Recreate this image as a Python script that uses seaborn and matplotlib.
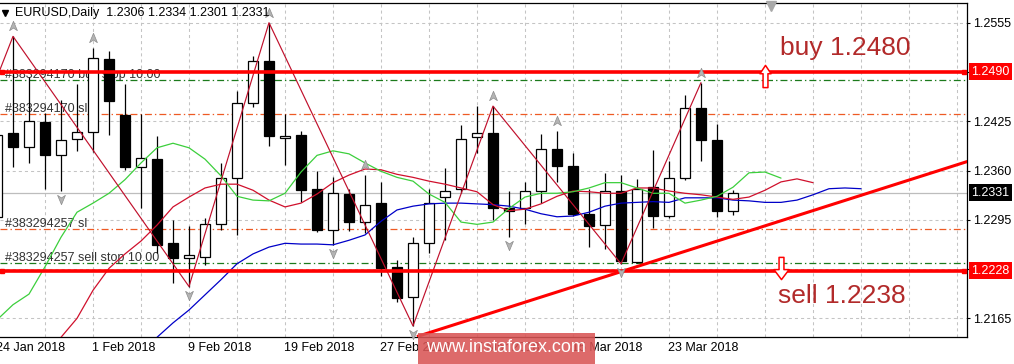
import matplotlib
matplotlib.use("Agg")
import matplotlib.pyplot as plt
import matplotlib.transforms as mtrans
from matplotlib.path import Path
from matplotlib.patches import Rectangle
import numpy as np
import pandas as pd
import seaborn as sns

# ---------------- data ----------------
symbol = "EURUSD,Daily"
tick_bars = [0, 6, 12, 18, 24, 30, 36, 42]
tick_labels = ["24 Jan 2018", "1 Feb 2018", "9 Feb 2018", "19 Feb 2018",
               "27 Feb 2018", "7 Mar 2018", "15 Mar 2018", "23 Mar 2018"]

opens = [1.2299, 1.2409, 1.2391, 1.2424, 1.2381, 1.2401, 1.2411, 1.2507, 1.2433, 1.2364,
         1.2375, 1.2264, 1.2244, 1.2246, 1.2289, 1.2350, 1.2449, 1.2504, 1.2403, 1.2407,
         1.2335, 1.2281, 1.2329, 1.2292, 1.2317, 1.2233, 1.2193, 1.2264, 1.2325, 1.2335,
         1.2404, 1.2409, 1.2310, 1.2310, 1.2333, 1.2389, 1.2366, 1.2302, 1.2288, 1.2333,
         1.2239, 1.2338, 1.2300, 1.2350, 1.2443, 1.2400, 1.2306]
highs = [1.2415, 1.2537, 1.2484, 1.2436, 1.2453, 1.2474, 1.2521, 1.2518, 1.2474, 1.2435,
         1.2405, 1.2295, 1.2287, 1.2297, 1.2370, 1.2465, 1.2511, 1.2555, 1.2435, 1.2412,
         1.2359, 1.2351, 1.2336, 1.2354, 1.2345, 1.2242, 1.2272, 1.2335, 1.2363, 1.2420,
         1.2445, 1.2445, 1.2333, 1.2345, 1.2408, 1.2412, 1.2383, 1.2335, 1.2357, 1.2354,
         1.2349, 1.2387, 1.2372, 1.2460, 1.2476, 1.2421, 1.2334]
lows = [1.2297, 1.2364, 1.2370, 1.2335, 1.2333, 1.2386, 1.2385, 1.2407, 1.2361, 1.2311,
        1.2251, 1.2211, 1.2207, 1.2235, 1.2282, 1.2275, 1.2444, 1.2393, 1.2367, 1.2319,
        1.2279, 1.2262, 1.2280, 1.2277, 1.2221, 1.2187, 1.2155, 1.2251, 1.2268, 1.2330,
        1.2383, 1.2295, 1.2272, 1.2290, 1.2317, 1.2345, 1.2300, 1.2259, 1.2257, 1.2237,
        1.2238, 1.2284, 1.2298, 1.2347, 1.2372, 1.2299, 1.2301]
closes = [1.2407, 1.2391, 1.2425, 1.2380, 1.2400, 1.2411, 1.2508, 1.2452, 1.2365, 1.2376,
          1.2262, 1.2245, 1.2248, 1.2290, 1.2350, 1.2449, 1.2504, 1.2405, 1.2406, 1.2334,
          1.2281, 1.2330, 1.2292, 1.2315, 1.2231, 1.2192, 1.2265, 1.2317, 1.2333, 1.2402,
          1.2410, 1.2310, 1.2306, 1.2333, 1.2388, 1.2366, 1.2303, 1.2287, 1.2333, 1.2240,
          1.2336, 1.2300, 1.2350, 1.2443, 1.2400, 1.2307, 1.2331]

# Alligator lines (already shifted forward)
lips_start = 0
lips = [1.2163, 1.2183, 1.2197, 1.2233, 1.2272, 1.2305, 1.2317, 1.2330, 1.2348, 1.2370,
        1.2390, 1.2396, 1.2390, 1.2375, 1.2353, 1.2326, 1.2321, 1.2320, 1.2330, 1.2358,
        1.2380, 1.2386, 1.2382, 1.2370, 1.2359, 1.2351, 1.2346, 1.2329, 1.2318, 1.2292,
        1.2289, 1.2292, 1.2310, 1.2325, 1.2330, 1.2330, 1.2332, 1.2337, 1.2344, 1.2344,
        1.2337, 1.2330, 1.2330, 1.2317, 1.2321, 1.2326, 1.2338, 1.2357, 1.2358, 1.2350]
teeth_start = 4
teeth = [1.2140, 1.2165, 1.2202, 1.2231, 1.2250, 1.2267, 1.2288, 1.2312, 1.2325, 1.2337,
         1.2342, 1.2342, 1.2334, 1.2321, 1.2312, 1.2317, 1.2329, 1.2344, 1.2354, 1.2362,
         1.2361, 1.2355, 1.2351, 1.2346, 1.2342, 1.2337, 1.2332, 1.2315, 1.2307, 1.2309,
         1.2316, 1.2326, 1.2333, 1.2332, 1.2330, 1.2330, 1.2337, 1.2337, 1.2333, 1.2330,
         1.2328, 1.2325, 1.2322, 1.2325, 1.2334, 1.2345, 1.2349, 1.2344]
jaw_start = 10
jaw = [1.2140, 1.2159, 1.2176, 1.2196, 1.2216, 1.2237, 1.2250, 1.2259, 1.2264, 1.2263,
       1.2263, 1.2262, 1.2268, 1.2275, 1.2293, 1.2308, 1.2313, 1.2316, 1.2317, 1.2317,
       1.2316, 1.2315, 1.2313, 1.2309, 1.2303, 1.2299, 1.2300, 1.2305, 1.2313, 1.2317,
       1.2318, 1.2319, 1.2318, 1.2324, 1.2324, 1.2324, 1.2321, 1.2320, 1.2318, 1.2318,
       1.2321, 1.2328, 1.2336, 1.2337, 1.2336]

zigzag_bars = [-2, 1, 12, 17, 26, 31, 39, 44]
zigzag_prices = [1.2375, 1.2537, 1.2207, 1.2555, 1.2155, 1.2445, 1.2237, 1.2476]

fractal_up_bars = [1, 6, 17, 23, 31, 35, 44]
fractal_down_bars = [4, 12, 21, 26, 32, 39]

level_buy = 1.2490
level_sell = 1.2228
buy_stop, buy_sl = 1.2480, 1.2435
sell_stop, sell_sl = 1.2238, 1.2283
buy_ticket, sell_ticket = "#383294170", "#383294257"
lot = "10.00"
trend_bars = [26.25, 62.0]
trend_prices = [1.2141, 1.2381]
y_ticks = [1.2165, 1.2230, 1.2295, 1.2360, 1.2425, 1.2490, 1.2555]
hidden_y_ticks = [1.2230, 1.2490]
watermark = "www.instaforex.com"

# ---------------- style ----------------
sns.set_style("white")
plt.rcParams["font.family"] = ["Liberation Sans", "DejaVu Sans"]
plt.rcParams["lines.scale_dashes"] = False

W, H = 1014, 364
fig = plt.figure(figsize=(W / 100, H / 100), dpi=100)
fig.patch.set_facecolor("white")
ax = fig.add_axes([0 / W, 27 / H, 967 / W, 334 / H])
ax.set_facecolor("white")
ax.set_xlim(0.1875, 60.625)
ax.set_ylim(1.21404, 1.25810)

for s in ["top", "right", "bottom"]:
    ax.spines[s].set_color("black")
    ax.spines[s].set_linewidth(0.9)
ax.spines["left"].set_visible(False)

grid_kw = dict(color="#c4c4c4", linestyle=(0, (2.2, 2.2)), linewidth=0.75)
ax.set_xticks(tick_bars[1:])
ax.set_xticklabels([""] * len(tick_bars[1:]))
ax.set_xticks(np.arange(3, 61, 3), minor=True)
ax.grid(True, which="both", axis="x", **grid_kw)
ax.set_yticks(y_ticks)
ax.set_yticklabels(["" if t in hidden_y_ticks else f"{t:.4f}" for t in y_ticks])
ax.grid(True, which="major", axis="y", **grid_kw)
ax.set_axisbelow(True)
ax.yaxis.tick_right()
ax.tick_params(axis="y", which="major", direction="out", length=2.5, width=0.8,
               pad=2.2, labelsize=9, colors="black")
ax.tick_params(axis="x", which="major", direction="out", length=2.5, width=0.8, pad=1)
ax.tick_params(axis="x", which="minor", length=0)

xfrac_y = mtrans.blended_transform_factory(ax.transData, ax.transAxes)
for b, lab in zip(tick_bars, tick_labels):
    ax.annotate(lab, xy=(b, 0), xycoords=("data", "axes fraction"), xytext=(-1, -11),
                textcoords="offset pixels", ha="left", va="center", fontsize=9,
                color="black", annotation_clip=False)

# current price line
ax.axhline(closes[-1], color="#bdbdbd", lw=0.9, zorder=1)

# pending order lines
ax.axhline(buy_stop, color="#1c7a1c", lw=0.9, linestyle=(0, (5, 2.2, 1, 2.2)), zorder=1.5)
ax.axhline(sell_stop, color="#1c7a1c", lw=0.9, linestyle=(0, (5, 2.2, 1, 2.2)), zorder=1.5)
ax.axhline(buy_sl, color="#ee5a24", lw=0.9, linestyle=(0, (5, 2.2, 1, 2.2)), zorder=1.5)
ax.axhline(sell_sl, color="#ee5a24", lw=0.9, linestyle=(0, (5, 2.2, 1, 2.2)), zorder=1.5)
for txt, lvl in [(f"{buy_ticket} buy stop {lot}", buy_stop), (f"{buy_ticket} sl", buy_sl),
                 (f"{sell_ticket} sl", sell_sl), (f"{sell_ticket} sell stop {lot}", sell_stop)]:
    ax.annotate(txt, xy=(5 / 967, lvl), xycoords=("axes fraction", "data"), xytext=(0, 2),
                textcoords="offset pixels", ha="left", va="baseline", fontsize=9,
                color="#333333", zorder=2)

# candles
x = np.arange(len(opens))
o, h, l, c = map(np.array, (opens, highs, lows, closes))
ax.vlines(x, l, h, color="black", lw=0.9, zorder=3)
bull = c >= o
body_bottom = np.minimum(o, c)
body_h = np.maximum(np.abs(c - o), 0.00004)
ax.bar(x, body_h, bottom=body_bottom, width=0.62,
       color=np.where(bull, "white", "black"), edgecolor="black", linewidth=0.9, zorder=3.2)

# alligator
rows = []
for name, start, vals in [("jaw", jaw_start, jaw), ("teeth", teeth_start, teeth), ("lips", lips_start, lips)]:
    for k, v in enumerate(vals):
        rows.append({"bar": start + k, "price": v, "line": name})
df = pd.DataFrame(rows)
sns.lineplot(data=df, x="bar", y="price", hue="line", units="line", estimator=None, sort=False,
             palette={"jaw": "#0000c8", "teeth": "#d0102c", "lips": "#3ccf3c"},
             legend=False, linewidth=0.9, ax=ax, zorder=4)

# zigzag
sns.lineplot(x=zigzag_bars, y=zigzag_prices, sort=False, estimator=None, color="#c0102c",
             linewidth=0.85, ax=ax, zorder=4.2)
ax.set_xlabel("")
ax.set_ylabel("")

# fractal arrows
up_head = Path([(0, 1), (0.75, -0.8), (0, -0.3), (-0.75, -0.8), (0, 1)], closed=True)
dn_head = Path([(0, -1), (0.75, 0.8), (0, 0.3), (-0.75, 0.8), (0, -1)], closed=True)
t_up = ax.transData + mtrans.ScaledTranslation(0, 10 / 100, fig.dpi_scale_trans)
t_dn = ax.transData + mtrans.ScaledTranslation(0, -8 / 100, fig.dpi_scale_trans)
ax.plot(fractal_up_bars, [highs[b] for b in fractal_up_bars], ls="none", marker=up_head,
        ms=7.5, mfc="#b4b4b4", mec="#8c8c8c", mew=0.5, transform=t_up, zorder=6, clip_on=False)
ax.plot(fractal_down_bars, [lows[b] for b in fractal_down_bars], ls="none", marker=dn_head,
        ms=7.5, mfc="#b4b4b4", mec="#8c8c8c", mew=0.5, transform=t_dn, zorder=6, clip_on=False)

# key levels
ax.axhline(level_buy, color="#ff0000", lw=2.6, zorder=5)
ax.axhline(level_sell, color="#ff0000", lw=2.6, zorder=5)
xa_yd = mtrans.blended_transform_factory(ax.transAxes, ax.transData)
for lvl in (level_buy, level_sell):
    ax.plot([2 / 967, 964 / 967], [lvl, lvl], ls="none", marker="s", ms=3.5, color="#ff0000",
            transform=xa_yd, zorder=5.1, clip_on=False)
ax.plot(trend_bars, trend_prices, color="#ff0000", lw=2.2, zorder=5, solid_capstyle="butt")

# buy/sell arrows
up_arrow = Path([(-0.22, -1), (0.22, -1), (0.22, 0.25), (0.5, 0.25), (0, 1), (-0.5, 0.25),
                 (-0.22, 0.25), (-0.22, -1)], closed=True)
dn_arrow = Path([(-0.22, 1), (0.22, 1), (0.22, -0.1), (0.68, -0.1), (0, -1), (-0.68, -0.1),
                 (-0.22, -0.1), (-0.22, 1)], closed=True)
ax.plot([765 / 967], [level_buy], marker=up_arrow, ms=16, mfc="white", mec="#ff0000", mew=1.1,
        transform=xa_yd + mtrans.ScaledTranslation(0, -4.5 / 100, fig.dpi_scale_trans), zorder=6)
ax.plot([781 / 967], [level_sell], marker=dn_arrow, ms=16, mfc="white", mec="#ff0000", mew=1.1,
        transform=xa_yd + mtrans.ScaledTranslation(0, 2.6 / 100, fig.dpi_scale_trans), zorder=6)

ax.annotate(f"buy {buy_stop:.4f}", xy=(780 / 967, level_buy), xycoords=("axes fraction", "data"),
            xytext=(0, 24), textcoords="offset pixels", ha="left", va="center",
            fontsize=19, color="#b22a2a", zorder=6)
ax.annotate(f"sell {sell_stop:.4f}", xy=(778 / 967, level_sell), xycoords=("axes fraction", "data"),
            xytext=(0, -25.5), textcoords="offset pixels", ha="left", va="center",
            fontsize=19, color="#b22a2a", zorder=6)

# right-side price boxes
for lvl, fc in [(level_buy, "#ff0000"), (closes[-1], "black"), (level_sell, "#ff0000")]:
    ax.text(971 / 967, lvl, f"{lvl:.4f}", transform=xa_yd, ha="left", va="center", fontsize=9,
            color="white", clip_on=False, zorder=7,
            bbox=dict(boxstyle="square,pad=0.2", fc=fc, ec="none"))

# chart shift marker
ax.plot([771 / 967], [0.99], marker="v", ms=7, color="#a8a8a8", transform=ax.transAxes,
        clip_on=False, zorder=7)

# header
fig.text(15 / W, 1 - 13 / H,
         f"{symbol}  {opens[-1]:.4f} {highs[-1]:.4f} {lows[-1]:.4f} {closes[-1]:.4f}",
         ha="left", va="center", fontsize=9, color="black")
fig.lines.append(plt.Line2D([5 / W], [1 - 13 / H], marker="v", ms=5, color="black",
                            transform=fig.transFigure))

# watermark
fig.patches.append(Rectangle((418 / W, 0), 177 / W, 31 / H, transform=fig.transFigure,
                             facecolor="#d95555", alpha=0.88, edgecolor="none", zorder=10))
fig.text(505.5 / W, 1 - 348 / H, watermark, ha="center", va="center", fontsize=13,
         color="white", zorder=11)

fig.savefig("out.png", dpi=100, facecolor="white")
